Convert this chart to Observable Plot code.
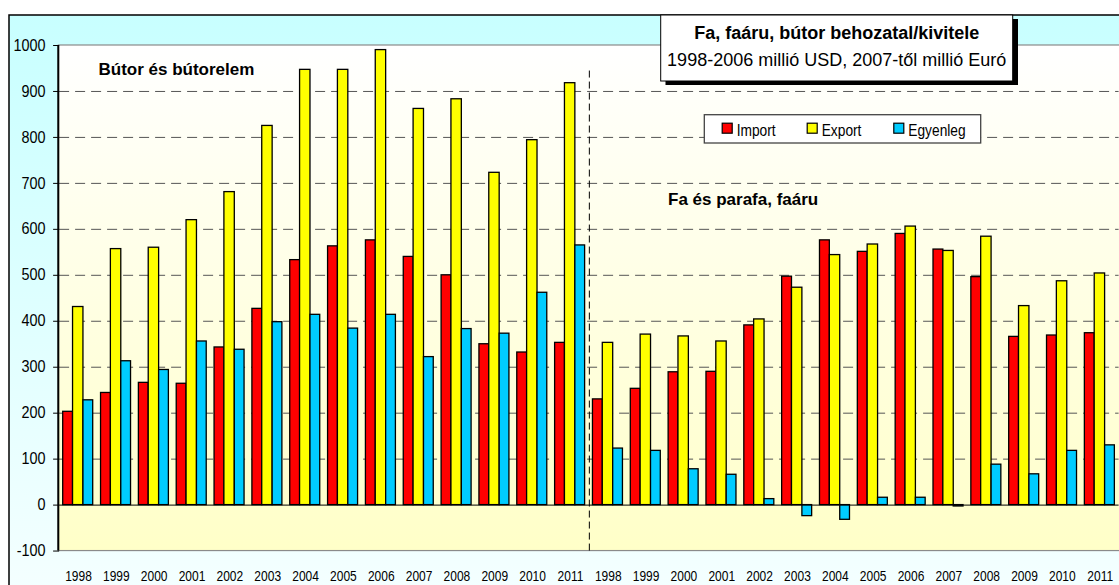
<!DOCTYPE html>
<html>
<head>
<meta charset="utf-8">
<script src="https://cdn.jsdelivr.net/npm/d3@7"></script>
<script src="https://cdn.jsdelivr.net/npm/@observablehq/plot@0.6"></script>
<style>
html,body{margin:0;padding:0;background:#fff;overflow:hidden;}
#chart{width:1119px;height:585px;overflow:hidden;}
</style>
</head>
<body>
<div id="chart"></div>
<script>
// ---- data ----
const years = [1998,1999,2000,2001,2002,2003,2004,2005,2006,2007,2008,2009,2010,2011];
// Bútor és bútorelem
const butorImport   = [203,244,266,264,343,427,533,563,576,540,500,350,332,353];
const butorExport   = [431,557,560,620,681,825,947,947,990,862,883,723,794,918];
const butorEgyenleg = [228,313,294,356,338,398,414,384,414,322,383,373,462,565];
// Fa és parafa, faáru
const faImport   = [230,253,289,290,391,497,576,551,590,556,496,366,369,374];
const faExport   = [353,371,367,356,404,473,544,567,606,553,584,433,487,504];
const faEgyenleg = [123,118,78,66,13,-24,-32,16,16,-3,88,67,118,130];

const yTicks = [-100,0,100,200,300,400,500,600,700,800,900,1000];
const gridValues = [100,200,300,400,500,600,700,800,900];
const seriesNames = ["Import","Export","Egyenleg"];
const seriesColors = ["#ff0000","#ffff00","#00ccff"];
const titleLine1 = "Fa, faáru, bútor behozatal/kivitele";
const titleLine2 = "1998-2006 millió USD, 2007-től millió Euró";
const panelLabels = ["Bútor és bútorelem","Fa és parafa, faáru"];

const rows = [];
years.forEach((yr,i)=>rows.push({key:"A"+yr, imp:butorImport[i], exp:butorExport[i], bal:butorEgyenleg[i]}));
years.forEach((yr,i)=>rows.push({key:"B"+yr, imp:faImport[i], exp:faExport[i], bal:faEgyenleg[i]}));

// ---- layout ----
const W=1119, H=585, mL=59.1, mR=0.4, mT=45, mB=34.44;
const bw=(W-mL-mR)/rows.length;
const FONT = "'Liberation Sans', Arial, sans-serif";

const barOpts = (field, color, l, r) => Plot.barY(rows, {
  x:"key", y1:0, y2:field, fill:color, stroke:"#000", strokeWidth:1.3,
  insetLeft:l, insetRight:bw-r
});

const chart = Plot.plot({
  width:W, height:H, marginLeft:mL, marginRight:mR, marginTop:mT, marginBottom:mB,
  style:{background:"transparent", fontFamily:FONT, color:"#000", overflow:"visible"},
  x:{domain:rows.map(d=>d.key), padding:0, round:false},
  y:{domain:[-100,1000]},
  marks:[
    Plot.ruleY(gridValues, {stroke:"#555", strokeWidth:1, strokeDasharray:"10,6"}),
    Plot.ruleX(["B1998"], {y1:-100, y2:950, dx:-bw/2, stroke:"#000", strokeWidth:1, strokeDasharray:"7,4"}),
    barOpts("imp", seriesColors[0], 3.6, 13.44),
    barOpts("exp", seriesColors[1], 13.44, 23.84),
    barOpts("bal", seriesColors[2], 23.84, 33.6),
    Plot.ruleY([0], {stroke:"#000", strokeWidth:1}),
    Plot.axisY({anchor:"left", ticks:yTicks, tickFormat:d=>String(d), tickSize:6, tickPadding:8, fontSize:16, label:null}),
    Plot.axisX({anchor:"bottom", tickSize:0, tickPadding:19.5, fontSize:15, tickFormat:d=>d.slice(1), label:null})
  ]
});
document.getElementById("chart").appendChild(chart);

// ---- decorations ----
const svg = d3.select(chart);
function squeeze(sel, sx){
  chart.querySelectorAll(sel).forEach(t=>{
    let tr = t.getAttribute("transform");
    if(!tr){
      const x=+(t.getAttribute("x")||0), y=+(t.getAttribute("y")||0);
      t.removeAttribute("x"); t.removeAttribute("y");
      tr = `translate(${x},${y})`;
    }
    t.setAttribute("transform", tr+` scale(${sx},1)`);
  });
}
squeeze('g[aria-label="y-axis tick label"] text', 0.9);
squeeze('g[aria-label="x-axis tick label"] text', 0.8);

const defs = svg.insert("defs", ":first-child");
const g1 = defs.append("linearGradient").attr("id","gOuter").attr("x1",0).attr("y1",0).attr("x2",0).attr("y2",1);
g1.append("stop").attr("offset","0%").attr("stop-color","#c8ffff");
g1.append("stop").attr("offset","100%").attr("stop-color","#f6ffff");
const g2 = defs.append("linearGradient").attr("id","gPlot").attr("x1",0).attr("y1",0).attr("x2",0).attr("y2",1);
g2.append("stop").attr("offset","0%").attr("stop-color","#ffffff");
g2.append("stop").attr("offset","100%").attr("stop-color","#ffffc8");

const bg = svg.insert("g", "defs + *");
bg.append("rect").attr("x",9).attr("y",15).attr("width",1200).attr("height",600)
  .attr("fill","url(#gOuter)").attr("stroke","#000").attr("stroke-width",1.5);
bg.append("rect").attr("x",58.3).attr("y",45).attr("width",1100).attr("height",550.56-45)
  .attr("fill","url(#gPlot)").attr("stroke","#8a8a8a").attr("stroke-width",1.2);

// left axis line
svg.append("line").attr("x1",58.3).attr("x2",58.3).attr("y1",45).attr("y2",550.56)
  .attr("stroke","#000").attr("stroke-width",2);

// title box
const tb = svg.append("g").attr("font-family",FONT).attr("fill","#000");
tb.append("rect").attr("x",665.5).attr("y",19).attr("width",352.5).attr("height",66).attr("fill","#000");
tb.append("rect").attr("x",660.7).attr("y",15).attr("width",352).attr("height",66)
  .attr("fill","#fff").attr("stroke","#000").attr("stroke-width",1);
tb.append("text").attr("x",836.7).attr("y",39.3).attr("text-anchor","middle")
  .attr("font-size",18).attr("font-weight","bold").text(titleLine1);
tb.append("text").attr("x",836.7).attr("y",65.7).attr("text-anchor","middle")
  .attr("font-size",18).text(titleLine2);

// legend
const lg = svg.append("g").attr("font-family",FONT).attr("text-anchor","start");
lg.append("rect").attr("x",704.3).attr("y",114.7).attr("width",276.4).attr("height",28.3)
  .attr("fill","#fff").attr("stroke","#444").attr("stroke-width",1.3);
const swX = [721.7, 806.7, 893.3];
seriesNames.forEach((n,i)=>{
  lg.append("rect").attr("x",swX[i]+0.5).attr("y",123.2).attr("width",10).attr("height",10)
    .attr("fill",seriesColors[i]).attr("stroke","#000").attr("stroke-width",1.2);
  lg.append("text").attr("transform",`translate(${swX[i]+15},136) scale(0.86,1)`)
    .attr("text-anchor","start").attr("font-size",16).text(n);
});

// panel labels
const pl = svg.append("g").attr("font-family",FONT).attr("text-anchor","start")
  .attr("font-size",17).attr("font-weight","bold");
pl.append("text").attr("x",98.5).attr("y",75).text(panelLabels[0]);
pl.append("text").attr("x",668).attr("y",205).text(panelLabels[1]);
</script>
</body>
</html>
